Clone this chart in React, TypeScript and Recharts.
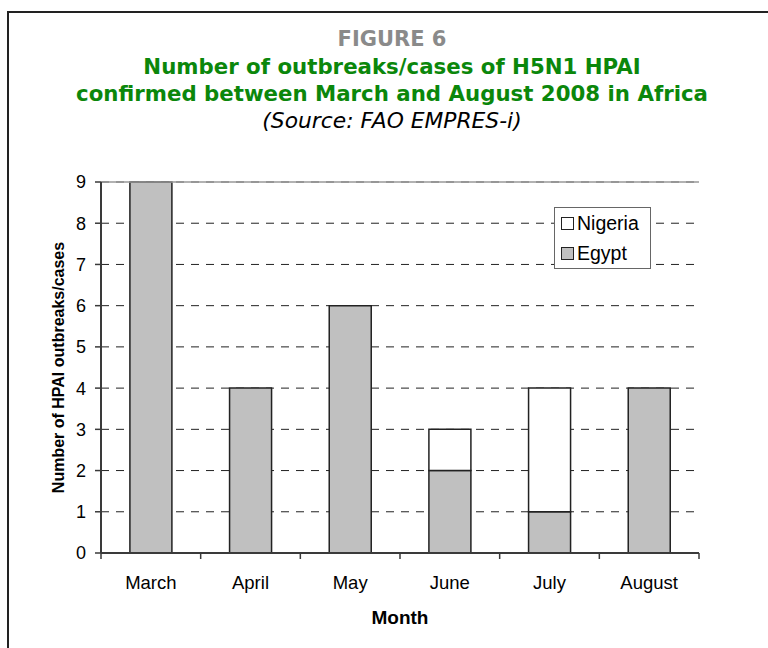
import React from "react";
import { BarChart, Bar, XAxis, YAxis, CartesianGrid, Legend, ReferenceLine } from "recharts";

const months = ["March", "April", "May", "June", "July", "August"];
const egypt = [9, 4, 6, 2, 1, 4];
const nigeria = [0, 0, 0, 1, 3, 0];
const yTicks = [0, 1, 2, 3, 4, 5, 6, 7, 8, 9];

const data = months.map((month, i) => ({ month, Egypt: egypt[i], Nigeria: nigeria[i] }));

const W = 768;
const H = 648;
const M = { top: 182, right: 69, bottom: 0, left: 0 };
const Y_AXIS_W = 101;
const X_AXIS_H = 95;
const BAND = (W - M.left - M.right - Y_AXIS_W) / months.length;

const AXIS = "#3a3a3a";
const GREEN = "#0b870b";
const SANS = "'Liberation Sans', Arial, sans-serif";
const HEAD = "'DejaVu Sans', Verdana, sans-serif";

// category label plus short tick marks on the band edges
const MonthTick = (props: any) => {
  const { x, y, payload, index } = props;
  const left = x - BAND / 2;
  return (
    <g>
      <line x1={left} y1={y} x2={left} y2={y + 6} stroke={AXIS} strokeWidth={1.5} />
      {index === months.length - 1 && (
        <line x1={left + BAND} y1={y} x2={left + BAND} y2={y + 6} stroke={AXIS} strokeWidth={1.5} />
      )}
      <text x={x} y={y + 36} textAnchor="middle" fontFamily={SANS} fontSize={18.5} fill="#000">
        {payload.value}
      </text>
    </g>
  );
};

const YTitle = (props: any) => {
  const vb = props.viewBox || { x: 0, y: 0, width: 0, height: 0 };
  const cx = 64;
  const cy = vb.y + vb.height / 2;
  return (
    <text x={cx} y={cy} transform={`rotate(-90 ${cx} ${cy})`} textAnchor="middle" fontFamily={SANS} fontSize={16} fontWeight="bold" fill="#000">
      Number of HPAI outbreaks/cases
    </text>
  );
};

const LegendBox = (props: any) => {
  const items = [...(props.payload || [])].reverse();
  return (
    <div style={{ border: "1px solid #666", background: "#fff", boxSizing: "border-box", width: 97, height: 62, padding: "0 0 0 6px" }}>
      {items.map((it: any) => (
        <div key={it.value} style={{ display: "flex", alignItems: "center", height: 30, fontFamily: SANS, fontSize: 19.5, color: "#000" }}>
          <span style={{ width: 13, height: 13, border: "1px solid #222", background: it.color, marginRight: 3, boxSizing: "border-box", flexShrink: 0 }} />
          {it.value}
        </div>
      ))}
    </div>
  );
};

export default function App() {
  return (
    <div style={{ position: "fixed", left: 0, top: 0, width: W, height: H, overflow: "hidden", background: "#fff" }}>
      <div style={{ position: "absolute", left: 7, top: 11, width: 800, height: 700, border: "2px solid #222" }} />
      <svg width={W} height={140} style={{ position: "absolute", left: 0, top: 0 }}>
        <text x={392} y={46} textAnchor="middle" fontFamily={HEAD} fontWeight="bold" fontSize={21} fill="#8a8a8a">
          FIGURE 6
        </text>
        <text x={392} y={74} textAnchor="middle" fontFamily={HEAD} fontWeight="bold" fontSize={21.3} fill={GREEN}>
          Number of outbreaks/cases of H5N1 HPAI
        </text>
        <text x={392} y={101} textAnchor="middle" fontFamily={HEAD} fontWeight="bold" fontSize={21.3} fill={GREEN}>
          confirmed between March and August 2008 in Africa
        </text>
        <text x={392} y={128} textAnchor="middle" fontFamily={HEAD} fontStyle="italic" fontSize={21.8} fill="#000">
          (Source: FAO EMPRES-i)
        </text>
      </svg>
      <div style={{ position: "absolute", left: 0, top: 0 }}>
        <BarChart width={W} height={H} data={data} margin={M} barCategoryGap="29%">
          <CartesianGrid vertical={false} stroke="#222" strokeDasharray="8 7" />
          <ReferenceLine y={9} stroke="#999" strokeWidth={1.5} />
          <XAxis
            dataKey="month"
            height={X_AXIS_H}
            tickLine={false}
            tickSize={0}
            tickMargin={0}
            axisLine={{ stroke: AXIS, strokeWidth: 2 }}
            tick={<MonthTick />}
            interval={0}
            label={{ value: "Month", position: "insideBottom", offset: 24, fontFamily: SANS, fontSize: 19, fontWeight: "bold", fill: "#000" }}
          />
          <YAxis
            width={Y_AXIS_W}
            domain={[0, 9]}
            ticks={yTicks}
            interval={0}
            tickSize={6}
            tickMargin={9}
            axisLine={{ stroke: AXIS, strokeWidth: 2 }}
            tickLine={{ stroke: AXIS, strokeWidth: 1.5 }}
            tick={{ fontFamily: SANS, fontSize: 18, fill: "#000" }}
            label={<YTitle />}
          />
          <YAxis yAxisId="frame" orientation="right" width={0} domain={[0, 9]} tick={false} tickLine={false} axisLine={{ stroke: "#999", strokeWidth: 1.5 }} />
          <Legend
            layout="vertical"
            align="center"
            verticalAlign="middle"
            content={<LegendBox />}
            wrapperStyle={{ left: 554, top: 207, width: 97 }}
          />
          <Bar dataKey="Egypt" stackId="a" fill="#c0c0c0" stroke="#222" strokeWidth={1.5} isAnimationActive={false} />
          <Bar dataKey="Nigeria" stackId="a" fill="#ffffff" stroke="#222" strokeWidth={1.5} isAnimationActive={false} />
        </BarChart>
      </div>
    </div>
  );
}
